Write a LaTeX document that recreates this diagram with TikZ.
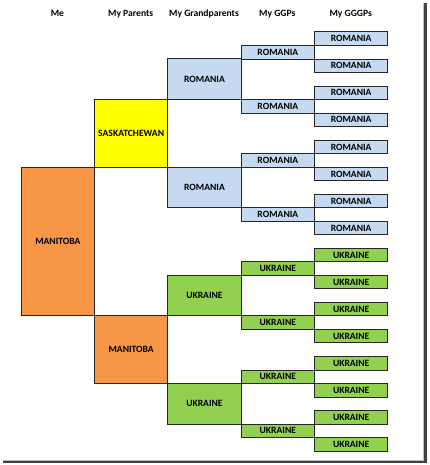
\documentclass[tikz,border=0pt]{standalone}
\usepackage{fontspec}
\setmainfont{Carlito}
\usetikzlibrary{positioning}
\definecolor{romBlue}{RGB}{197,217,241}
\definecolor{saskYellow}{RGB}{255,255,0}
\definecolor{maniOrange}{RGB}{247,150,70}
\definecolor{ukrGreen}{RGB}{146,208,80}
\tikzset{
  famBox/.style={draw=black!85, line width=1pt, anchor=north west, inner sep=0pt,
    minimum width=73.3pt, font=\fontsize{9.6}{11}\selectfont\bfseries},
  oneRow/.style={famBox, minimum height=13.52pt},
  gpBox/.style={famBox, minimum height=40.56pt},
  parBox/.style={famBox, minimum height=67.6pt},
  meBox/.style={famBox, minimum height=148.7pt},
  colHead/.style={font=\fontsize{9.6}{11}\selectfont\bfseries, inner sep=0pt}
}

\begin{document}
\begin{tikzpicture}[x=1pt, y=-1pt]
  \useasboundingbox (0,0) rectangle (429,465);
  % page shadow
  \draw[black!25, line width=0.8pt] (423,3) -- (423,460.3) -- (3,460.3);
  \draw[black!75, line width=2.5pt] (425.5,3) -- (425.5,462) -- (3,462);

  % column headings
  \node[colHead] (hMe) at (57.4,13.7) {Me};
  \node[colHead] (hPar) at (130.7,13.7) {My Parents};
  \node[colHead] (hGp) at (204,13.7) {My Grandparents};
  \node[colHead] (hGgp) at (277.3,13.7) {My GGPs};
  \node[colHead] (hGggp) at (350.7,13.7) {My GGGPs};

  % me and parents
  \node[meBox, fill=maniOrange] (me) at (20.7,166.7) {MANITOBA};
  \node[parBox, fill=saskYellow] (par1) at (94,99.1) {SASKATCHEWAN};
  \node[parBox, fill=maniOrange] (par2) at (94,315.4) {MANITOBA};

  % grandparents
  \node[gpBox, fill=romBlue] (gp1) at (167.3,58.5) {ROMANIA};
  \node[gpBox, fill=romBlue] (gp2) at (167.3,166.7) {ROMANIA};
  \node[gpBox, fill=ukrGreen] (gp3) at (167.3,274.9) {UKRAINE};
  \node[gpBox, fill=ukrGreen] (gp4) at (167.3,383) {UKRAINE};

  % great grandparents
  \foreach \r [count=\i] in {1,5,9,13}
    \node[oneRow, fill=romBlue] (ggp\i) at (240.7,{31.5+13.52*\r}) {ROMANIA};
  \foreach \r [count=\i from 5] in {17,21,25,29}
    \node[oneRow, fill=ukrGreen] (ggp\i) at (240.7,{31.5+13.52*\r}) {UKRAINE};

  % great great grandparents
  \foreach \r [count=\i] in {0,2,...,14}
    \node[oneRow, fill=romBlue] (gggp\i) at (314,{31.5+13.52*\r}) {ROMANIA};
  \foreach \r [count=\i from 9] in {16,18,...,30}
    \node[oneRow, fill=ukrGreen] (gggp\i) at (314,{31.5+13.52*\r}) {UKRAINE};
\end{tikzpicture}
\end{document}
